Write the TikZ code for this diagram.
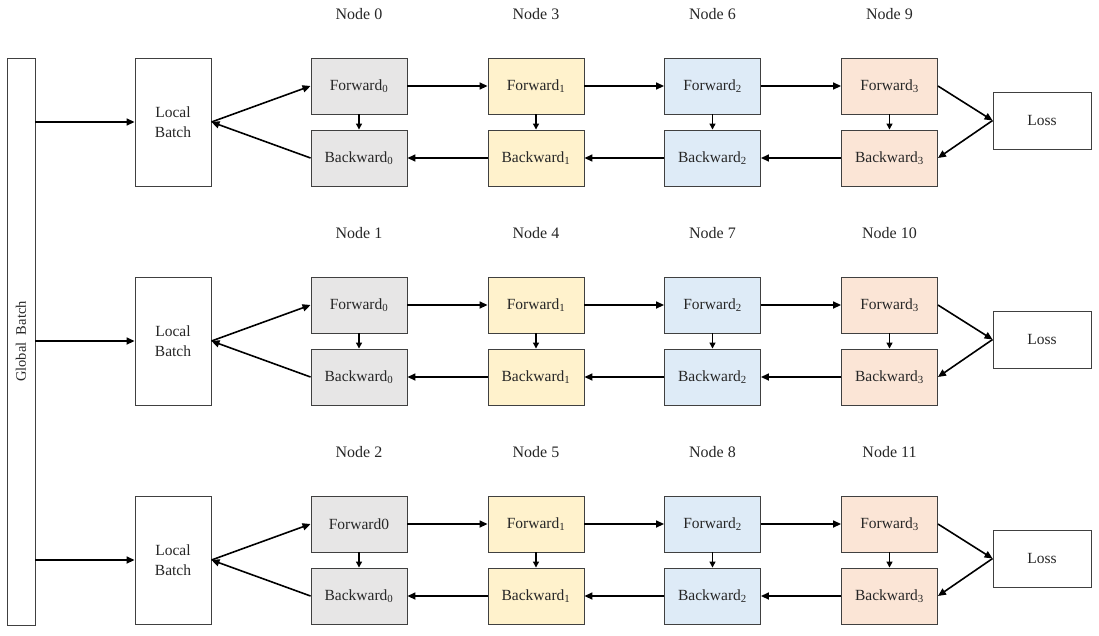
\documentclass[tikz,border=0pt]{standalone}
\usepackage{fontspec}
\setmainfont{Liberation Serif}
\usetikzlibrary{arrows.meta}
\definecolor{cgray}{HTML}{E7E6E6}
\definecolor{cyel}{HTML}{FFF2CC}
\definecolor{cblue}{HTML}{DEEBF7}
\definecolor{cpeach}{HTML}{FBE5D6}
\definecolor{bord}{HTML}{404040}
\tikzset{
  box/.style={draw=bord, line width=0.9pt, minimum width=96pt, minimum height=56pt, inner sep=0pt, font=\fontsize{15.5}{17}\selectfont, text=black!85},
  wbox/.style={draw=bord, line width=0.9pt, fill=white, inner sep=0pt, align=center, font=\fontsize{15.5}{20}\selectfont, text=black!85},
  lbl/.style={font=\fontsize{16}{18}\selectfont, text=black!85},
  arr/.style={line width=1.6pt, -{Triangle[length=8pt,width=7pt]}},
  sarr/.style={line width=1.2pt, -{Triangle[length=6pt,width=6pt]}}
}
\begin{document}
\begin{tikzpicture}[x=1pt,y=-1pt]
\useasboundingbox (0,0) rectangle (1099,635);
\node[wbox, minimum width=28pt, minimum height=567pt] (gb) at (21,341.5) {};
\node[rotate=90, font=\fontsize{14.5}{16}\selectfont, text=black!85] (gbt) at (gb.center) {Global\ \ Batch};
\foreach \r in {0,1,2}{
  \pgfmathsetmacro{\yo}{219*\r}
  \node[wbox, minimum width=76pt, minimum height=128pt] (lb\r) at (173,122+\yo) {Local\\Batch};
  \node[wbox, minimum width=98pt, minimum height=57pt] (loss\r) at (1042,120.5+\yo) {Loss};
  \foreach \c/\xx/\col in {0/359/cgray,1/536/cyel,2/712.5/cblue,3/889.5/cpeach}{
    \pgfmathtruncatemacro{\nn}{3*\c+\r}
    \pgfmathtruncatemacro{\plain}{(\r==2)&&(\c==0)}
    \ifnum\plain=1
      \node[box, fill=\col] (f\r\c) at (\xx,86+\yo) {Forward0};
    \else
      \node[box, fill=\col] (f\r\c) at (\xx,86+\yo) {Forward\textsubscript{\c}};
    \fi
    \node[box, fill=\col] (b\r\c) at (\xx,158+\yo) {Backward\textsubscript{\c}};
    \node[lbl] (n\r\c) at (\xx,14+\yo) {Node \nn};
    \draw[sarr] (f\r\c) -- (b\r\c);
  }
  \draw[arr] (gb.east |- lb\r) -- (lb\r.west);
  \draw[arr] (lb\r.east) -- (f\r0.west);
  \draw[arr] (b\r0.west) -- (lb\r.east);
  \draw[arr] (f\r0) -- (f\r1);
  \draw[arr] (f\r1) -- (f\r2);
  \draw[arr] (f\r2) -- (f\r3);
  \draw[arr] (b\r3) -- (b\r2);
  \draw[arr] (b\r2) -- (b\r1);
  \draw[arr] (b\r1) -- (b\r0);
  \draw[arr] (f\r3.east) -- (loss\r.west);
  \draw[arr] (loss\r.west) -- (b\r3.east);
}
\end{tikzpicture}
\end{document}
